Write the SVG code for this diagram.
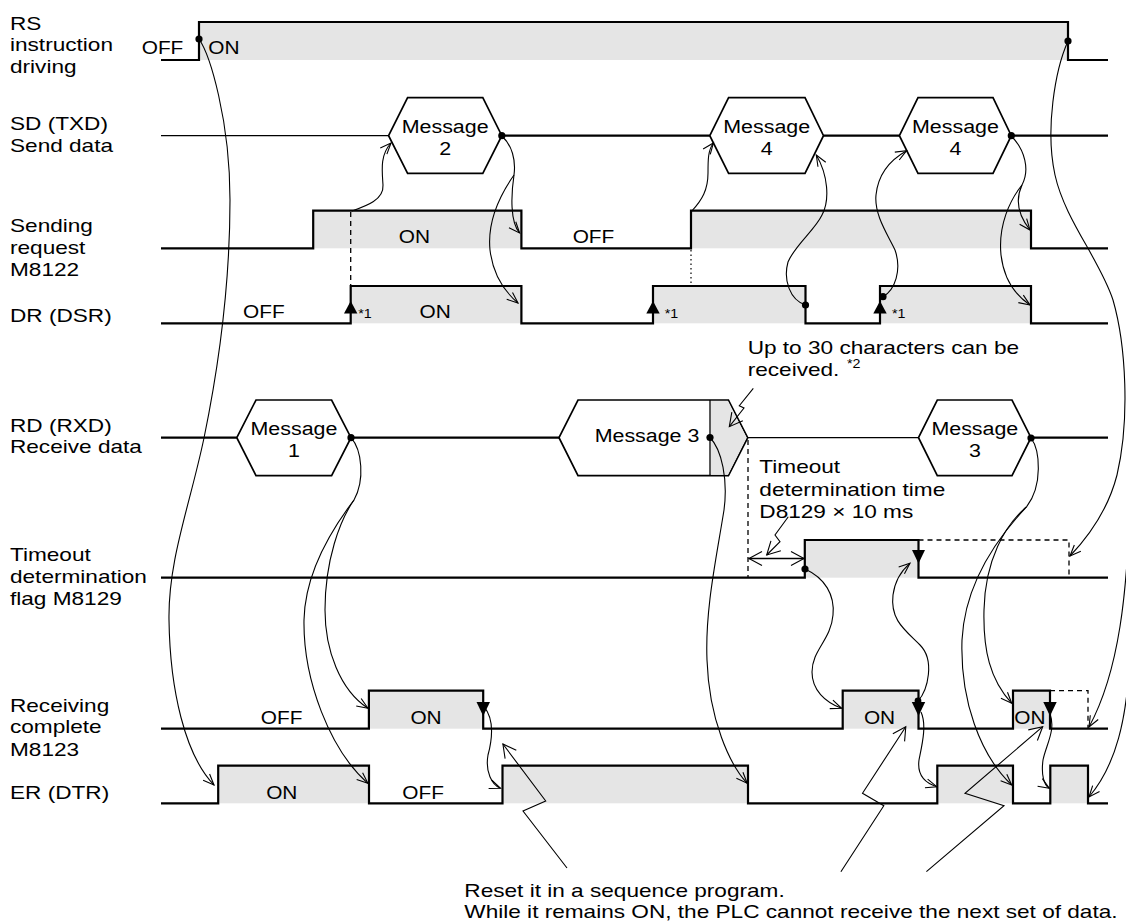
<svg xmlns="http://www.w3.org/2000/svg" width="1126" height="923" viewBox="0 0 1126 923">
<style>
.sig{fill:none;stroke:#000;stroke-width:2.2;stroke-linejoin:miter}
.thin{fill:none;stroke:#000;stroke-width:1.3}
.bg{fill:#e5e5e5;stroke:none}
.hex{fill:#fff;stroke:#000;stroke-width:1.7;stroke-linejoin:miter}
.dash{fill:none;stroke:#000;stroke-width:1.3;stroke-dasharray:5 4}
.dot2{fill:none;stroke:#000;stroke-width:1.2;stroke-dasharray:1.5 3}
.con{fill:none;stroke:#000;stroke-width:1.1;marker-end:url(#ah)}
.conn{fill:none;stroke:#000;stroke-width:1.1}
.lit{fill:none;stroke:#000;stroke-width:1.1;marker-end:url(#ah2)}
.dot{fill:#000}
text{font-family:"Liberation Sans",Arial,Helvetica,sans-serif;fill:#000}
.lb{font-size:19px}
.st{font-size:17.5px}
.hx{font-size:18px;text-anchor:middle}
.mid{text-anchor:middle}
.sm{font-size:12px}
</style>
<defs>
<marker id="ah" viewBox="-13 -7 15 14" refX="0" refY="0" markerWidth="15" markerHeight="14" markerUnits="userSpaceOnUse" orient="auto"><path d="M-11,-4.5 L0,0 L-11,4.5" fill="none" stroke="#000" stroke-width="1.1"/></marker>
<marker id="ah2" viewBox="-15 -9 17 18" refX="0" refY="0" markerWidth="17" markerHeight="18" markerUnits="userSpaceOnUse" orient="auto-start-reverse"><path d="M-13,-7 L0,0 L-13,7" fill="none" stroke="#000" stroke-width="1.1"/></marker>
</defs>

<g id="rs">
<rect class="bg" x="199" y="22" width="869" height="38"/>
<path class="sig" d="M161,60H199V22H1068V60H1108"/>
<circle class="dot" cx="199" cy="39" r="3.6"/>
<circle class="dot" cx="1068" cy="41" r="3.6"/>
<text class="lb" transform="scale(1.19,1)" x="8.4" y="30">RS</text>
<text class="lb" transform="scale(1.19,1)" x="8.4" y="51.5">instruction</text>
<text class="lb" transform="scale(1.19,1)" x="8.4" y="73">driving</text>
<text class="st" transform="scale(1.19,1)" x="119.1" y="54">OFF</text>
<text class="st" transform="scale(1.19,1)" x="175" y="54">ON</text>
</g>

<g id="sd">
<path class="thin" d="M161,135.7H388.6"/>
<path class="sig" d="M501.8,135.7H709.8M823.5,135.7H899.4M1011.3,135.7H1108"/>
<polygon class="hex" points="388.6,135.7 407.6,97.7 482.8,97.7 501.8,135.7 482.8,173.3 407.6,173.3"/>
<polygon class="hex" points="709.8,135.7 728.6,97.7 805,97.7 823.5,135.7 805,173.3 728.6,173.3"/>
<polygon class="hex" points="899.4,135.7 918,97.7 993,97.7 1011.3,135.7 993,173.3 918,173.3"/>
<circle class="dot" cx="501.8" cy="135.7" r="3.6"/>
<circle class="dot" cx="1011.3" cy="135.7" r="3.6"/>
<text class="hx" transform="scale(1.19,1)" x="374.1" y="133.3">Message</text>
<text class="hx" transform="scale(1.19,1)" x="374.1" y="155">2</text>
<text class="hx" transform="scale(1.19,1)" x="644.3" y="133.3">Message</text>
<text class="hx" transform="scale(1.19,1)" x="644.3" y="155">4</text>
<text class="hx" transform="scale(1.19,1)" x="802.9" y="133.3">Message</text>
<text class="hx" transform="scale(1.19,1)" x="802.9" y="155">4</text>
<text class="lb" transform="scale(1.19,1)" x="8.4" y="130">SD (TXD)</text>
<text class="lb" transform="scale(1.19,1)" x="8.4" y="152">Send data</text>
</g>

<g id="m8122">
<rect class="bg" x="313.2" y="210.7" width="208.2" height="37.6"/>
<rect class="bg" x="691" y="210.7" width="340" height="37.6"/>
<path class="sig" d="M161,248.3H313.2V210.7H521.4V248.3H691V210.7H1031V248.3H1108"/>
<path class="dash" d="M350.7,212V286"/>
<path class="dot2" d="M691,250V286"/>
<text class="lb" transform="scale(1.19,1)" x="8.4" y="232">Sending</text>
<text class="lb" transform="scale(1.19,1)" x="8.4" y="254">request</text>
<text class="lb" transform="scale(1.19,1)" x="8.4" y="276">M8122</text>
<text class="st mid" transform="scale(1.19,1)" x="348.2" y="243">ON</text>
<text class="st" transform="scale(1.19,1)" x="481.2" y="243">OFF</text>
</g>

<g id="dr">
<rect class="bg" x="350.7" y="286" width="170.7" height="37.3"/>
<rect class="bg" x="653" y="286" width="152.5" height="37.3"/>
<rect class="bg" x="880" y="286" width="151" height="37.3"/>
<path class="sig" d="M161,323.3H350.7V286H521.4V323.3H653V286H805.5V323.3H880V286H1031V323.3H1108"/>
<polygon class="dot" points="344,313.5 357.4,313.5 350.7,301"/>
<polygon class="dot" points="646.3,313.5 659.7,313.5 653,301"/>
<polygon class="dot" points="873.3,313.5 886.7,313.5 880,301"/>
<circle class="dot" cx="805.5" cy="305" r="3.6"/>
<circle class="dot" cx="883" cy="296.7" r="3.6"/>
<text class="lb" transform="scale(1.19,1)" x="8.4" y="322">DR (DSR)</text>
<text class="st" transform="scale(1.19,1)" x="204.2" y="318">OFF</text>
<text class="st" transform="scale(1.19,1)" x="352.6" y="318">ON</text>
<text class="sm" transform="scale(1.19,1)" x="301" y="318">*1</text>
<text class="sm" transform="scale(1.19,1)" x="558.6" y="318">*1</text>
<text class="sm" transform="scale(1.19,1)" x="749.6" y="318">*1</text>
</g>

<g id="rd">
<path class="sig" d="M161,437.7H236.8M351,437.7H559M1031,437.7H1108"/>
<path class="thin" d="M747.7,437.7H918.5"/>
<polygon class="hex" points="236.8,437.7 256,400 331.6,400 351,437.7 331.6,475.7 256,475.7"/>
<polygon class="hex" points="559,437.7 578,400 728.4,400 747.7,437.7 728.4,475.7 578,475.7"/>
<polygon class="bg" points="710.8,401 728,401 746.5,437.7 728,474.8 710.8,474.8"/>
<path class="thin" d="M710,400V475.7"/>
<polygon class="hex" points="918.5,437.7 937.3,400 1012,400 1031,437.7 1012,475.7 937.3,475.7"/>
<circle class="dot" cx="351" cy="437.7" r="3.6"/>
<circle class="dot" cx="710" cy="437.5" r="3.6"/>
<circle class="dot" cx="1031" cy="438" r="3.6"/>
<text class="hx" transform="scale(1.19,1)" x="247" y="435">Message</text>
<text class="hx" transform="scale(1.19,1)" x="247" y="457">1</text>
<text class="hx" transform="scale(1.19,1)" x="543.7" y="442.5">Message 3</text>
<text class="hx" transform="scale(1.19,1)" x="819.2" y="435">Message</text>
<text class="hx" transform="scale(1.19,1)" x="819.2" y="457">3</text>
<text class="lb" transform="scale(1.19,1)" x="8.4" y="432">RD (RXD)</text>
<text class="lb" transform="scale(1.19,1)" x="8.4" y="453.5">Receive data</text>
<text class="lb" transform="scale(1.19,1)" x="628.3" y="354">Up to 30 characters can be</text>
<text class="lb" transform="scale(1.19,1)" x="628.3" y="376">received.</text>
<text class="sm" transform="scale(1.19,1)" x="711.8" y="368">*2</text>
</g>

<g id="m8129">
<rect class="bg" x="804.8" y="540" width="113.7" height="37.7"/>
<path class="sig" d="M161,577.7H804.8V540H918.5V577.7H1108"/>
<path class="dash" d="M918.5,540H1069V577.7"/>
<path class="dash" d="M748,440V577.7"/>
<polygon class="dot" points="912,550 925,550 918.5,563.5"/>
<circle class="dot" cx="805" cy="569" r="3.6"/>
<text class="lb" transform="scale(1.19,1)" x="8.4" y="561">Timeout</text>
<text class="lb" transform="scale(1.19,1)" x="8.4" y="583">determination</text>
<text class="lb" transform="scale(1.19,1)" x="8.4" y="605.5">flag M8129</text>
<text class="lb" transform="scale(1.19,1)" x="638.1" y="473">Timeout</text>
<text class="lb" transform="scale(1.19,1)" x="638.1" y="495.7">determination time</text>
<text class="lb" transform="scale(1.19,1)" x="638.1" y="518">D8129 × 10 ms</text>
</g>

<g id="m8123">
<rect class="bg" x="368.9" y="690.7" width="114.3" height="38"/>
<rect class="bg" x="842.7" y="690.7" width="75.8" height="38"/>
<rect class="bg" x="1013" y="690.7" width="37" height="38"/>
<path class="sig" d="M161,728.7H368.9V690.7H483.2V728.7H842.7V690.7H918.5V728.7H1013V690.7H1050V728.7H1108"/>
<path class="dash" d="M1050,690.7H1088V728.7"/>
<text class="lb" transform="scale(1.19,1)" x="8.4" y="712">Receiving</text>
<text class="lb" transform="scale(1.19,1)" x="8.4" y="733.5">complete</text>
<text class="lb" transform="scale(1.19,1)" x="8.4" y="756">M8123</text>
<text class="st mid" transform="scale(1.19,1)" x="236.6" y="724">OFF</text>
<text class="st mid" transform="scale(1.19,1)" x="358" y="724">ON</text>
<text class="st mid" transform="scale(1.19,1)" x="739.1" y="724">ON</text>
<text class="st mid" transform="scale(1.19,1)" x="865.5" y="724">ON</text>
<polygon class="dot" points="476.5,702 490,702 483.2,716"/>
<polygon class="dot" points="911.8,702 925.2,702 918.5,716"/>
<polygon class="dot" points="1043.3,702 1056.7,702 1050,716"/>
<circle class="dot" cx="918" cy="701" r="3.4"/>
</g>

<g id="er">
<rect class="bg" x="218.2" y="765.7" width="150.8" height="37.6"/>
<rect class="bg" x="502.5" y="765.7" width="245.5" height="37.6"/>
<rect class="bg" x="937.3" y="765.7" width="75.7" height="37.6"/>
<rect class="bg" x="1050.3" y="765.7" width="37.7" height="37.6"/>
<path class="sig" d="M161,803.3H218.2V765.7H369V803.3H502.5V765.7H748V803.3H937.3V765.7H1013V803.3H1050.3V765.7H1088V803.3H1108"/>
<text class="lb" transform="scale(1.19,1)" x="8.4" y="799">ER (DTR)</text>
<text class="st mid" transform="scale(1.19,1)" x="236.8" y="799">ON</text>
<text class="st mid" transform="scale(1.19,1)" x="355.5" y="799">OFF</text>
</g>

<g id="note">
<text class="lb" transform="scale(1.19,1)" x="390.2" y="896.7">Reset it in a sequence program.</text>
<text class="lb" transform="scale(1.19,1)" x="390.2" y="918.3">While it remains ON, the PLC cannot receive the next set of data.</text>
</g>

<g id="connectors">
<path class="con" d="M199,39 C210,55 230,120 230,200 C230,290 218,370 204,438 C190,505 168,560 169,620 C170,690 185,755 214,785"/>
<path class="con" d="M1068,41 C1055,70 1045,130 1055,175 C1065,220 1100,260 1113,300 C1126,345 1130,420 1117,475 C1108,510 1090,535 1070,556"/>
<path class="con" d="M1130,505 C1127,590 1120,670 1089,727"/>
<path class="con" d="M1130,655 C1127,720 1116,765 1089,797"/>
<path class="con" d="M351.8,211 C366,206 384,200 383,185 C382,170 380,155 391,143"/>
<path class="con" d="M501.8,136 C512,145 516,160 514,175 C511,195 510,222 519.6,233"/>
<path class="con" d="M514,175 C500,195 487,220 490,250 C493,275 505,292 518,303"/>
<path class="con" d="M691.8,211 C702,200 708,190 708,173 C708,160 708,150 713.4,143"/>
<path class="con" d="M805.5,305 C790,300 783,280 788,262 C795,245 815,230 822,215 C830,200 828,175 816.3,155"/>
<path class="con" d="M883,296.7 C895,290 902,270 895,250 C888,235 874,215 876,195 C878,175 890,160 906.6,150.7"/>
<path class="con" d="M1011.3,136 C1025,150 1030,170 1022,185 C1015,200 1018,215 1030,230"/>
<path class="con" d="M1022,185 C1010,200 998,225 1001,255 C1004,280 1015,295 1030,305"/>
<path class="conn" d="M351,437.7 C362,450 365,480 354,500"/>
<path class="con" d="M354,500 C335,525 305,570 304,620 C303,680 330,750 367.9,783.3"/>
<path class="con" d="M354,500 C340,520 325,560 325,610 C325,650 340,690 367.9,708.3"/>
<path class="con" d="M484,706.7 C495,720 492,740 488,755 C485,772 492,785 500.5,788.3"/>
<path class="con" d="M710,437.5 C722,450 728,480 724,510 C716,560 705,610 707,660 C709,720 730,765 747.2,783.3"/>
<path class="con" d="M805,569 C825,578 835,595 833,615 C831,640 812,650 812,672 C812,690 825,702 841.6,708.3"/>
<path class="con" d="M918,701 C928,690 935,660 920,645 C905,630 890,620 893,595 C895,580 902,570 910,563.3"/>
<path class="con" d="M921,712 C927,725 922,745 919,760 C917,775 925,783 936.8,786.7"/>
<path class="conn" d="M1031,438 C1040,450 1043,485 1026.7,506.7"/>
<path class="con" d="M1026.7,506.7 C1000,535 965,580 962,640 C960,700 980,755 1011.7,785"/>
<path class="con" d="M1026.7,506.7 C1005,525 985,560 984,610 C983,650 990,680 1011.7,703.3"/>
<path class="con" d="M1050,714 C1056,730 1046,745 1043,760 C1041,775 1044,785 1049.3,788.3"/>
<path class="lit" d="M567,868 L523,811 L545.7,801 L502.9,744"/>
<path class="lit" d="M840.9,871.7 L883.8,805.7 L862.5,793.3 L905.8,726.7"/>
<path class="lit" d="M926.4,871.7 L1004,805.7 L965,793.3 L1042.7,726.7"/>
<path class="lit" d="M753.3,388.3 L739.3,405.7 L744,408 L729.3,426.7"/>
<path class="lit" d="M788.3,516.7 L775,535 L780,541.7 L766.7,555"/>
<path style="fill:none;stroke:#000;stroke-width:1.3;marker-start:url(#ah2);marker-end:url(#ah2)" d="M749,558.5H804"/>
</g>
</svg>
